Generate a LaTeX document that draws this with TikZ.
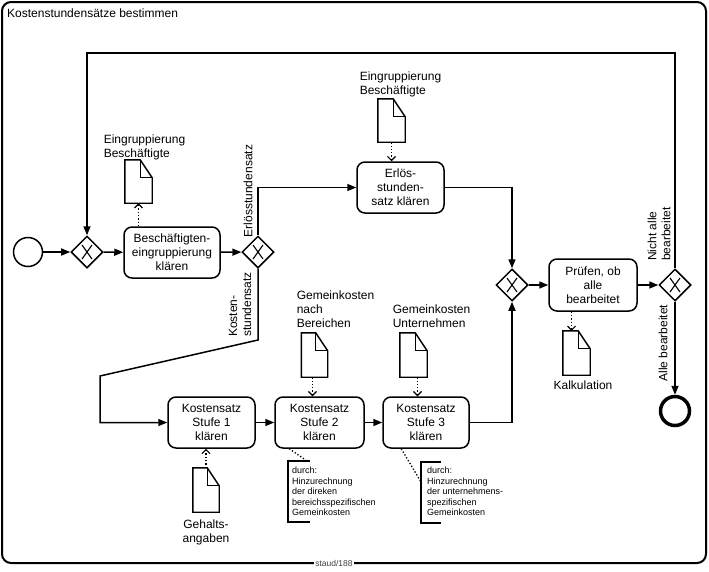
\documentclass[tikz,border=0pt]{standalone}
\usepackage{fontspec}
\setmainfont{Liberation Sans}
\usetikzlibrary{arrows.meta,shapes.geometric,calc}

\newcommand\docoutline[1]{%
  \draw[line width=1.4pt, line join=miter] (#1.south west) -- (#1.north west) -- ([xshift=-12pt]#1.north east) -- ([yshift=-18pt]#1.north east) -- (#1.south east) -- cycle;
  \draw[line width=1.2pt] ([xshift=-12pt]#1.north east) -- ([xshift=-12pt,yshift=-18pt]#1.north east) -- ([yshift=-18pt]#1.north east);
}
\newcommand\gwcross[1]{%
  \draw[line width=1.1pt] ($(#1)+(-5,-7)$) -- ($(#1)+(5,7)$) ($(#1)+(-5,7)$) -- ($(#1)+(5,-7)$);
}

\begin{document}
\begin{tikzpicture}[x=1pt,y=-1pt,
  flow/.style={line width=1.5pt, -{Triangle[length=9pt,width=7pt]}},
  assoc/.style={line width=1.3pt, dotted, -{Straight Barb[length=4pt,width=8pt,line width=1.1pt]}},
  notelink/.style={line width=1.3pt, dotted},
  bracket/.style={line width=1.5pt},
  task/.style={draw, line width=1.5pt, rounded corners=8pt, minimum width=88pt, minimum height=51pt, align=center, font=\fontsize{12}{14}\selectfont, inner sep=0pt},
  gw/.style={draw, diamond, line width=1.5pt, minimum width=32pt, minimum height=32pt, inner sep=0pt},
  docbox/.style={minimum width=27pt, minimum height=43pt, inner sep=0pt},
  lbl/.style={font=\fontsize{12}{14}\selectfont, inner sep=0pt},
  note/.style={font=\fontsize{9}{10.5}\selectfont, align=left, inner sep=0pt, anchor=north west},
]
\useasboundingbox (0,0) rectangle (709,571);

% frame
\draw[line width=2pt, rounded corners=9pt] (2,2) rectangle (706,563);
\node[lbl, anchor=west] (title) at (7,13.5) {Kostenstundensätze bestimmen};
\node[font=\fontsize{8.5}{10}\selectfont, fill=white, inner sep=1pt, text=black!75] (staud) at (334,563) {staud/188};

% events
\node[circle, draw, line width=1.5pt, minimum size=29pt, inner sep=0pt] (start) at (28,252) {};
\node[circle, draw, line width=3.5pt, minimum size=29pt, inner sep=0pt] (end) at (675,411) {};

% gateways
\node[gw] (g1) at (87,252) {};
\node[gw] (g2) at (258,252) {};
\node[gw] (g3) at (512,285) {};
\node[gw] (g4) at (675,285) {};
\gwcross{g1}\gwcross{g2}\gwcross{g3}\gwcross{g4}

% tasks
\node[task, minimum width=96pt] (t1) at (172,252.5) {Beschäftigten-\\eingruppierung\\klären};
\node[task, minimum width=87pt] (t2) at (400.5,187.5) {Erlös-\\stunden-\\satz klären};
\node[task, minimum height=52pt] (t3) at (593,285) {Prüfen, ob\\alle\\bearbeitet};
\node[task, minimum width=87pt] (s1) at (211.5,422.5) {Kostensatz\\Stufe 1\\klären};
\node[task, minimum width=89pt] (s2) at (319.5,422.5) {Kostensatz\\Stufe 2\\klären};
\node[task, minimum width=86pt] (s3) at (426,422.5) {Kostensatz\\Stufe 3\\klären};

% data objects
\node[docbox] (d1) at (138.5,181.5) {};
\node[docbox] (d2) at (391.5,120.5) {};
\node[docbox, minimum width=26pt, minimum height=44pt] (d3) at (314.5,355) {};
\node[docbox, minimum height=44pt] (d4) at (413.5,355) {};
\node[docbox, minimum width=26pt, minimum height=44pt] (d5) at (206,490) {};
\node[docbox, minimum height=44pt] (d6) at (576.5,353) {};
\docoutline{d1}\docoutline{d2}\docoutline{d3}\docoutline{d4}\docoutline{d5}\docoutline{d6}

% data labels
\node[lbl, align=left] (l1) at (144.5,147) {Eingruppierung\\Beschäftigte};
\node[lbl, align=left] (l2) at (400.5,84) {Eingruppierung\\Beschäftigte};
\node[lbl, align=left] (l3) at (335.5,309) {Gemeinkosten\\nach\\Bereichen};
\node[lbl, align=left] (l4) at (431.5,316.5) {Gemeinkosten\\Unternehmen};
\node[lbl, align=center] (l5) at (206,532) {Gehalts-\\angaben};
\node[lbl] (l6) at (583,385) {Kalkulation};

% flow labels
\node[lbl, rotate=90] (fl1) at (248,191) {Erlösstundensatz};
\node[lbl, rotate=90, align=left, anchor=west] (fl2) at (240,337) {Kosten-\\stundensatz};
\node[lbl, rotate=90, align=left, anchor=west] (fl3) at (659,261) {Nicht alle\\bearbeitet};
\node[lbl, rotate=90] (fl4) at (663,343) {Alle bearbeitet};

% sequence flows
\coordinate (topline) at (0,53);
\coordinate (k1) at (258,340);
\coordinate (k2) at (100,376);
\draw[flow] (start) -- (g1);
\draw[flow] (g1) -- (t1);
\draw[flow] (t1) -- (g2);
\draw[flow] (g2.north) |- (t2.west);
\draw[flow] (t2.east) -| (g3.north);
\draw[flow] (g3) -- (t3);
\draw[flow] (t3) -- (g4);
\draw[flow] (g4.south) -- (end.north);
\draw[flow] (g4.north) -- (g4.north |- topline) -- (g1.north |- topline) -- (g1.north);
\draw[flow] (g2.south) -- (k1) -- (k2) -- (k2 |- s1.west) -- (s1.west);
\draw[flow] (s1) -- (s2);
\draw[flow] (s2) -- (s3);
\draw[flow] (s3.east) -| (g3.south);

% associations
\draw[assoc] (d1.south |- t1.north) -- (d1.south);
\draw[assoc] (d2.south) -- (d2.south |- t2.north);
\draw[assoc] ([xshift=-5pt]d6.north |- t3.south) -- ([xshift=-5pt]d6.north);
\draw[assoc] ([xshift=-2pt]d3.south) -- ([xshift=-2pt]d3.south |- s2.north);
\draw[assoc] ([xshift=4pt]d4.south) -- ([xshift=4pt]d4.south |- s3.north);
\draw[assoc] (d5.north) -- (d5.north |- s1.south);

% annotations
\node[note] (n1) at (292,467) {durch:\\Hinzurechnung\\der direken\\bereichsspezifischen\\Gemeinkosten};
\coordinate (n1a) at (307,461);
\draw[bracket] (310,461) -- (288,461) -- (288,522) -- (310,522);
\draw[notelink] ([xshift=15pt]s2.south west) -- (n1a);

\node[note] (n2) at (427,467) {durch:\\Hinzurechnung\\der unternehmens-\\spezifischen\\Gemeinkosten};
\coordinate (n2a) at (421,482);
\draw[bracket] (441,462) -- (421,462) -- (421,523) -- (441,523);
\draw[notelink] ([xshift=19pt]s3.south west) -- (n2a);
\end{tikzpicture}
\end{document}
